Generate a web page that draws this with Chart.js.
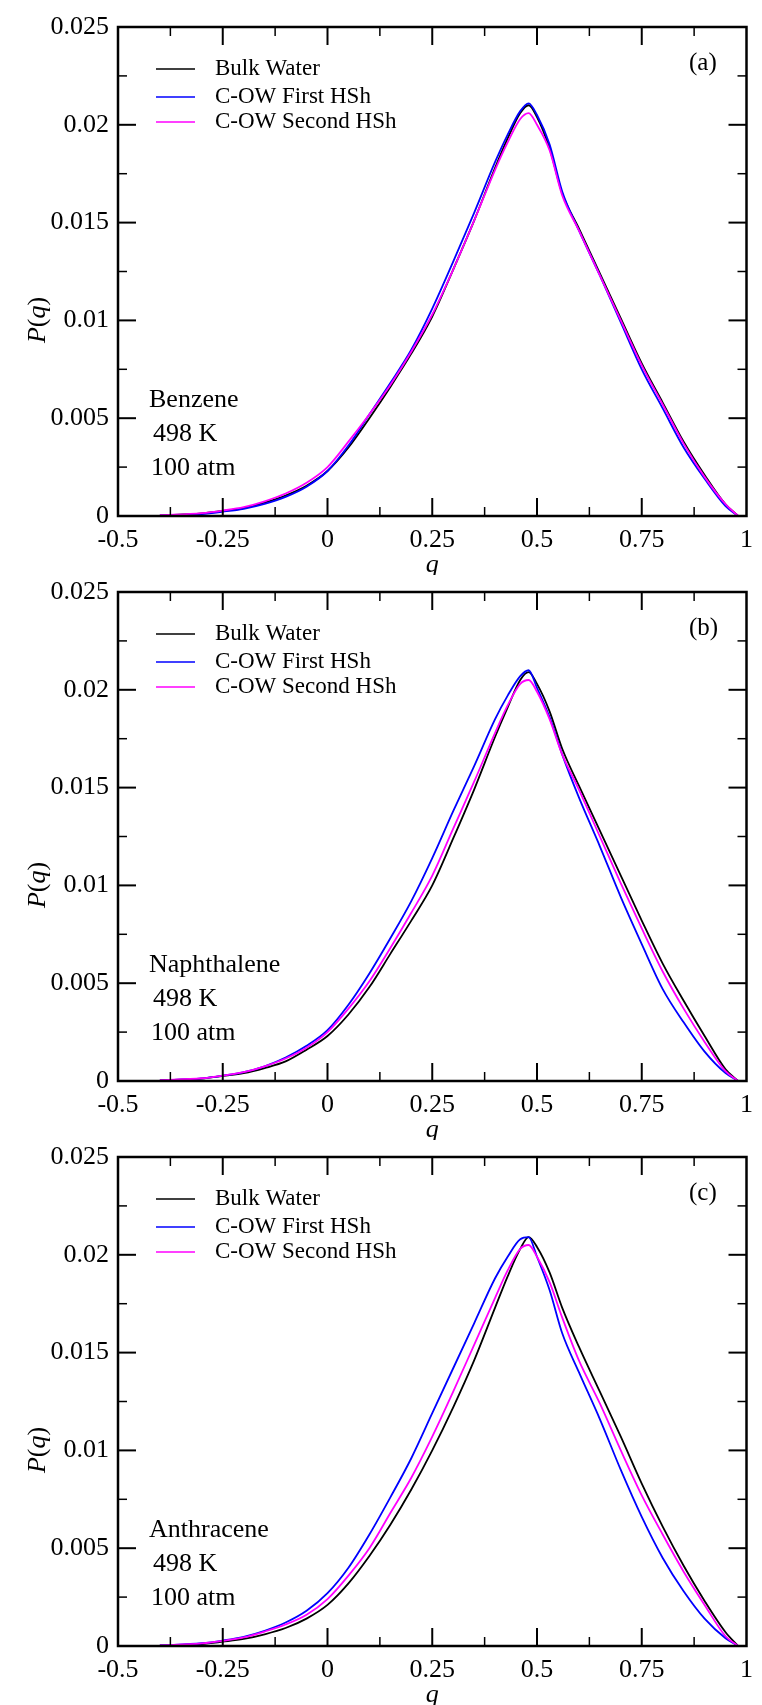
<!DOCTYPE html>
<html>
<head>
<meta charset="utf-8">
<script src="https://cdn.jsdelivr.net/npm/chart.js@4.4.0/dist/chart.umd.min.js"></script>
<style>
  html, body { margin: 0; padding: 0; background: #fff; }
  #wrap { position: relative; width: 762px; height: 1705px; overflow: hidden; }
  canvas { position: absolute; left: 0; }
</style>
</head>
<body>
<div id="wrap">
  <canvas id="panelA" width="762" height="575" style="top:0px"></canvas>
  <canvas id="panelB" width="762" height="575" style="top:565px"></canvas>
  <canvas id="panelC" width="762" height="575" style="top:1130px"></canvas>
</div>
<script>
// q grid shared by every curve
const qGrid = [-0.4, -0.3, -0.25, -0.2, -0.15, -0.1, -0.05, 0, 0.05, 0.1, 0.15, 0.2, 0.25, 0.3, 0.35, 0.4,
  0.43, 0.46, 0.48, 0.5, 0.53, 0.56, 0.6, 0.65, 0.7, 0.75, 0.8, 0.85, 0.9, 0.95, 0.98];

// (a) Benzene
const bulkA   = [0.00003, 0.00013, 0.00026, 0.0004, 0.00068, 0.00105, 0.00155, 0.0023, 0.0035, 0.005, 0.0066, 0.0083, 0.0102, 0.0126, 0.0151, 0.0178,
  0.0193, 0.0206, 0.021, 0.0204, 0.0188, 0.0165, 0.0147, 0.0124, 0.0101, 0.0078, 0.0058, 0.0038, 0.0021, 0.0006, 0];
const firstA  = [0.00002, 0.0001, 0.00022, 0.00037, 0.00062, 0.00098, 0.0015, 0.0023, 0.0036, 0.0052, 0.0068, 0.0085, 0.0106, 0.013, 0.0155, 0.0181,
  0.0195, 0.0207, 0.0211, 0.0205, 0.019, 0.0166, 0.0146, 0.0123, 0.0099, 0.0075, 0.0055, 0.0035, 0.0019, 0.0005, 0];
const secondA = [0.00004, 0.00015, 0.00028, 0.00045, 0.00075, 0.00115, 0.0017, 0.0025, 0.0038, 0.0052, 0.0067, 0.0084, 0.0103, 0.0126, 0.0151, 0.0177,
  0.0191, 0.0203, 0.0206, 0.02, 0.0187, 0.0164, 0.0146, 0.0123, 0.01, 0.0077, 0.0057, 0.0037, 0.002, 0.0006, 0];

// (b) Naphthalene
const bulkB   = [0.00003, 0.00012, 0.00026, 0.0004, 0.00066, 0.001, 0.0016, 0.0023, 0.0034, 0.0048, 0.0065, 0.0082, 0.01, 0.0124, 0.0149, 0.0176,
  0.0191, 0.0205, 0.0209, 0.0203, 0.0189, 0.017, 0.0151, 0.0128, 0.0105, 0.0082, 0.006, 0.0041, 0.0023, 0.0006, 0];
const firstB  = [0.00003, 0.00013, 0.00027, 0.00045, 0.00075, 0.0012, 0.0018, 0.0026, 0.0039, 0.0055, 0.0073, 0.0092, 0.0114, 0.0138, 0.0161, 0.0185,
  0.0197, 0.0207, 0.021, 0.0201, 0.0186, 0.0167, 0.0145, 0.012, 0.0094, 0.007, 0.0047, 0.003, 0.0015, 0.0004, 0];
const secondB = [0.00004, 0.00014, 0.00028, 0.00045, 0.00075, 0.00115, 0.0017, 0.0025, 0.0037, 0.0051, 0.0068, 0.0086, 0.0105, 0.0129, 0.0153, 0.0178,
  0.0192, 0.0203, 0.0205, 0.0199, 0.0185, 0.0167, 0.0149, 0.0125, 0.0101, 0.0078, 0.0056, 0.0037, 0.002, 0.0005, 0];

// (c) Anthracene
const bulkC   = [0.00003, 0.0001, 0.00022, 0.00036, 0.0006, 0.00092, 0.0014, 0.0021, 0.0032, 0.0046, 0.0062, 0.008, 0.01, 0.0122, 0.0146, 0.0173,
  0.0189, 0.0203, 0.0209, 0.0204, 0.0191, 0.0173, 0.0153, 0.013, 0.0107, 0.0083, 0.0061, 0.0041, 0.0023, 0.0007, 0];
const firstC  = [0.00003, 0.00014, 0.00028, 0.00047, 0.00078, 0.0012, 0.0018, 0.0027, 0.004, 0.0057, 0.0076, 0.0096, 0.0119, 0.0142, 0.0165, 0.0188,
  0.0199, 0.0208, 0.0209, 0.0199, 0.0182, 0.016, 0.014, 0.0116, 0.009, 0.0066, 0.0045, 0.0028, 0.0014, 0.0004, 0];
const secondC = [0.00003, 0.00013, 0.00026, 0.00044, 0.00074, 0.0011, 0.0016, 0.0024, 0.0036, 0.005, 0.0068, 0.0086, 0.0107, 0.013, 0.0154, 0.0178,
  0.0192, 0.0203, 0.0205, 0.0199, 0.0186, 0.0168, 0.0146, 0.0124, 0.01, 0.0077, 0.0057, 0.0038, 0.0021, 0.0005, 0];

const seriesLabels = ['Bulk Water', 'C-OW First HSh', 'C-OW Second HSh'];
const seriesColors = ['#000000', '#0000ff', '#ff00ff'];
const panelTags = ['(a)', '(b)', '(c)'];
const solutes = ['Benzene', 'Naphthalene', 'Anthracene'];
const conditions = ['498 K', '100 atm'];

const xTicks = [-0.5, -0.25, 0, 0.25, 0.5, 0.75, 1];
const xTickLabels = ['-0.5', '-0.25', '0', '0.25', '0.5', '0.75', '1'];
const yTicks = [0, 0.005, 0.01, 0.015, 0.02, 0.025];
const yTickLabels = ['0', '0.005', '0.01', '0.015', '0.02', '0.025'];

const FONT = "'Liberation Serif', 'Times New Roman', serif";

// frame, inward ticks, legend and text in xmgrace style
const gracePlugin = {
    id: 'grace',
    afterDatasetsDraw(chart, args, opts) {
        const ctx = chart.ctx;
        const a = chart.chartArea;
        const xs = chart.scales.x, ys = chart.scales.y;
        ctx.save();
        ctx.strokeStyle = '#000';

        const tick = (x1, y1, x2, y2, w) => {
            ctx.lineWidth = w;
            ctx.beginPath(); ctx.moveTo(x1, y1); ctx.lineTo(x2, y2); ctx.stroke();
        };
        const mid = arr => arr.slice(0, -1).map((v, i) => (v + arr[i + 1]) / 2);

        xTicks.slice(1, -1).forEach(v => {
            const px = xs.getPixelForValue(v);
            tick(px, a.bottom, px, a.bottom - 18, 2);
            tick(px, a.top, px, a.top + 18, 2);
        });
        mid(xTicks).forEach(v => {
            const px = xs.getPixelForValue(v);
            tick(px, a.bottom, px, a.bottom - 9, 1.5);
            tick(px, a.top, px, a.top + 9, 1.5);
        });
        yTicks.slice(1, -1).forEach(v => {
            const py = ys.getPixelForValue(v);
            tick(a.left, py, a.left + 18, py, 2);
            tick(a.right, py, a.right - 18, py, 2);
        });
        mid(yTicks).forEach(v => {
            const py = ys.getPixelForValue(v);
            tick(a.left, py, a.left + 9, py, 1.5);
            tick(a.right, py, a.right - 9, py, 1.5);
        });

        ctx.lineWidth = 2.5;
        ctx.strokeRect(a.left, a.top, a.right - a.left, a.bottom - a.top);

        // legend
        ctx.font = '23px ' + FONT;
        ctx.textBaseline = 'middle';
        ctx.textAlign = 'left';
        ctx.fillStyle = '#000';
        const rows = [a.top + 42, a.top + 70, a.top + 95];
        chart.data.datasets.forEach((ds, i) => {
            ctx.strokeStyle = ds.borderColor;
            tick(a.left + 38, rows[i], a.left + 77, rows[i], 1.5);
            ctx.fillText(ds.label, a.left + 97, rows[i]);
        });

        // panel tag
        ctx.font = '25px ' + FONT;
        ctx.fillText(opts.tag, a.left + 571, a.top + 36);

        // solute / conditions
        ctx.font = '26px ' + FONT;
        ctx.fillText(opts.solute, a.left + 31, a.top + 373);
        ctx.fillText(conditions[0], a.left + 35, a.top + 407);
        ctx.fillText(conditions[1], a.left + 33, a.top + 441);

        // x title
        ctx.textAlign = 'center';
        ctx.font = 'italic 26px ' + FONT;
        ctx.fillText('q', (a.left + a.right) / 2, a.bottom + 49);

        // y title P(q)
        ctx.translate(38, a.top + 293);
        ctx.rotate(-Math.PI / 2);
        const parts = [['P', true], ['(', false], ['q', true], [')', false]];
        const width = parts.reduce((s, p) => {
            ctx.font = (p[1] ? 'italic ' : '') + '26px ' + FONT;
            return s + ctx.measureText(p[0]).width;
        }, 0);
        let cx = -width / 2;
        ctx.textAlign = 'left';
        parts.forEach(p => {
            ctx.font = (p[1] ? 'italic ' : '') + '26px ' + FONT;
            ctx.fillText(p[0], cx, 0);
            cx += ctx.measureText(p[0]).width;
        });
        ctx.restore();
    }
};

function makePanel(id, idx, series) {
    const canvas = document.getElementById(id);
    const datasets = series.map((vals, i) => ({
        label: seriesLabels[i],
        data: qGrid.map((q, k) => ({ x: q, y: vals[k] })),
        borderColor: seriesColors[i],
        borderWidth: 1.8,
        pointRadius: 0,
        cubicInterpolationMode: 'monotone',
        fill: false,
        order: 2 - i
    }));
    return new Chart(canvas.getContext('2d'), {
        type: 'line',
        data: { datasets },
        plugins: [gracePlugin],
        options: {
            responsive: false,
            animation: false,
            devicePixelRatio: 1,
            layout: { padding: { top: 27, right: 7, left: 0, bottom: 0 } },
            plugins: {
                legend: { display: false },
                tooltip: { enabled: false },
                grace: { tag: panelTags[idx], solute: solutes[idx] }
            },
            scales: {
                x: {
                    type: 'linear',
                    min: -0.5, max: 1,
                    afterBuildTicks: s => { s.ticks = xTicks.map(v => ({ value: v })); },
                    afterFit: s => { s.height = 59; },
                    grid: { display: false, drawTicks: false },
                    border: { display: false },
                    ticks: {
                        padding: 9,
                        color: '#000',
                        maxRotation: 0,
                        autoSkip: false,
                        font: { family: FONT, size: 26 },
                        callback: (v, i) => xTickLabels[i]
                    }
                },
                y: {
                    min: 0, max: 0.025,
                    afterBuildTicks: s => { s.ticks = yTicks.map(v => ({ value: v })); },
                    afterFit: s => { s.width = 118; },
                    grid: { display: false, drawTicks: false },
                    border: { display: false },
                    ticks: {
                        padding: 9,
                        color: '#000',
                        autoSkip: false,
                        font: { family: FONT, size: 26 },
                        callback: (v, i) => yTickLabels[i]
                    }
                }
            }
        }
    });
}

makePanel('panelA', 0, [bulkA, firstA, secondA]);
makePanel('panelB', 1, [bulkB, firstB, secondB]);
makePanel('panelC', 2, [bulkC, firstC, secondC]);
</script>
</body>
</html>
